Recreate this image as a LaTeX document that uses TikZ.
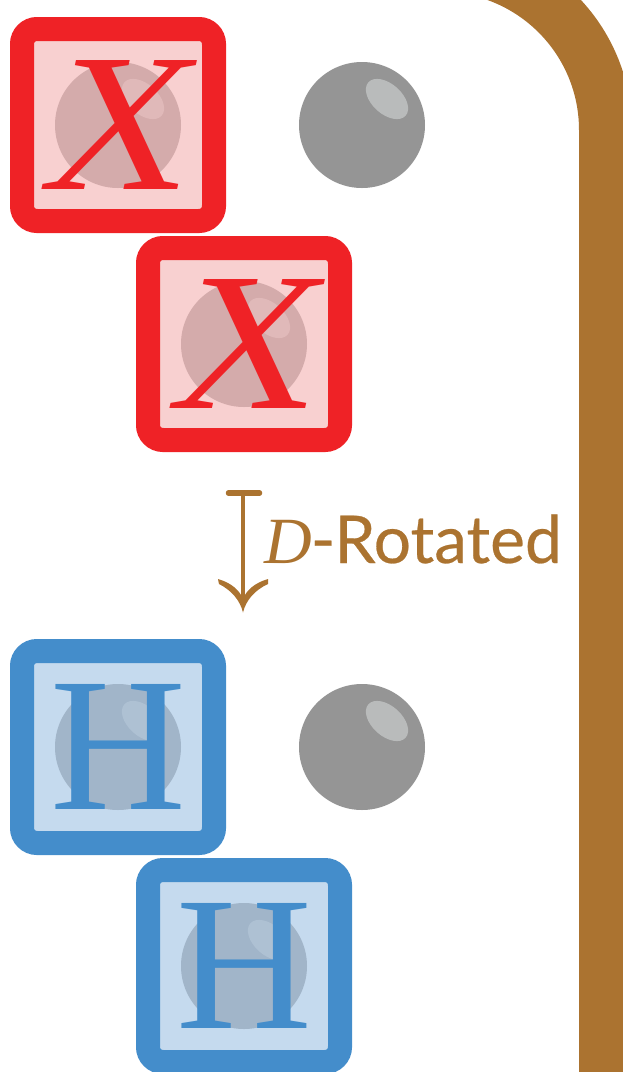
\documentclass[tikz,border=0pt]{standalone}
\usepackage{fontspec}
\setmainfont{Lato}
\newfontfamily\labelfont[FakeBold=0.4]{Lato}
\newfontfamily\letterfont{Liberation Serif}
\newfontfamily\letteritfont{Liberation Serif Italic}
\definecolor{brownc}{HTML}{AB7330}
\definecolor{redc}{HTML}{EF2226}
\definecolor{redin}{HTML}{F8D0D0}
\definecolor{redball}{HTML}{D4ABAB}
\definecolor{redhi}{HTML}{E0B9B9}
\definecolor{bluec}{HTML}{448DCB}
\definecolor{bluein}{HTML}{C5DAEE}
\definecolor{blueball}{HTML}{A1B5C9}
\definecolor{bluehi}{HTML}{AEC1D3}
\definecolor{ballc}{HTML}{959595}
\definecolor{ballhi}{HTML}{B9BBBB}
\tikzset{
  blockbox/.style={draw=#1,line width=24pt,rounded corners=15pt,minimum size=192pt,inner sep=0pt},
  xletter/.style={text=redc,font=\fontsize{197pt}{197pt}\selectfont\letterfont,inner sep=0pt,transform shape,xslant=0.22,xscale=1.01},
  hletter/.style={text=bluec,font=\fontsize{191pt}{191pt}\selectfont\letterfont,inner sep=0pt,transform shape,xscale=0.985},
}
\newcommand{\ballat}[4]{%
  \fill[#3] (#1,#2) circle[radius=63];
  \fill[#4,rotate around={-42:(#1+25,#2-26)}] (#1+25,#2-26) ellipse[x radius=25,y radius=15];
}
\begin{document}
\begin{tikzpicture}[x=1pt,y=-1pt]
\useasboundingbox (0,0) rectangle (623,1072);
\begin{scope}
\clip (0,0) rectangle (623,1072);
% rail
\draw[brownc,line width=53pt] (605.5,1100) -- (605.5,130) arc[start angle=0,end angle=-90,radius=164.5];
% red
\foreach \cx/\cy/\nm in {118/125/a,244/344/b}{
  \node[blockbox=redc,fill=redin] (box\nm) at (\cx,\cy) {};
}
\foreach \cx/\cy in {118/125,244/344}{\ballat{\cx}{\cy}{redball}{redhi}}
\node[xletter] (xa) at (123.5,124.5) {X};
\node[xletter] (xb) at (252,343.5) {X};
% blue
\foreach \cx/\cy/\nm in {118/747/c,244/966/d}{
  \node[blockbox=bluec,fill=bluein] (box\nm) at (\cx,\cy) {};
}
\foreach \cx/\cy in {118/747,244/966}{\ballat{\cx}{\cy}{blueball}{bluehi}}
\node[hletter] (ha) at (118,746.5) {H};
\node[hletter] (hb) at (244,965.5) {H};
% balls
\foreach \cy in {125,747}{\ballat{362}{\cy}{ballc}{ballhi}}
% arrow
\coordinate (top) at (243,493);
\coordinate (tip) at (243,612.5);
\draw[brownc,line width=5.5pt,line cap=round] (228.5,493) -- (259.5,493);
\draw[brownc,line width=3.5pt] (top) -- (243,605);
\fill[brownc] (tip) .. controls (240,600) and (231,590) .. (219,584) -- (218,579) .. controls (232,583) and (240,591) .. (243,599) .. controls (246,591) and (254,583) .. (268,579) -- (268,584) .. controls (255,590) and (246,600) .. (tip) -- cycle;
% label
\node[text=brownc,anchor=base west,inner sep=0pt,font=\fontsize{66pt}{66pt}\selectfont\labelfont] (lab) at (264,563) {{\letteritfont D}\kern-1pt-\kern-1pt Rotated};
\end{scope}
\end{tikzpicture}
\end{document}
